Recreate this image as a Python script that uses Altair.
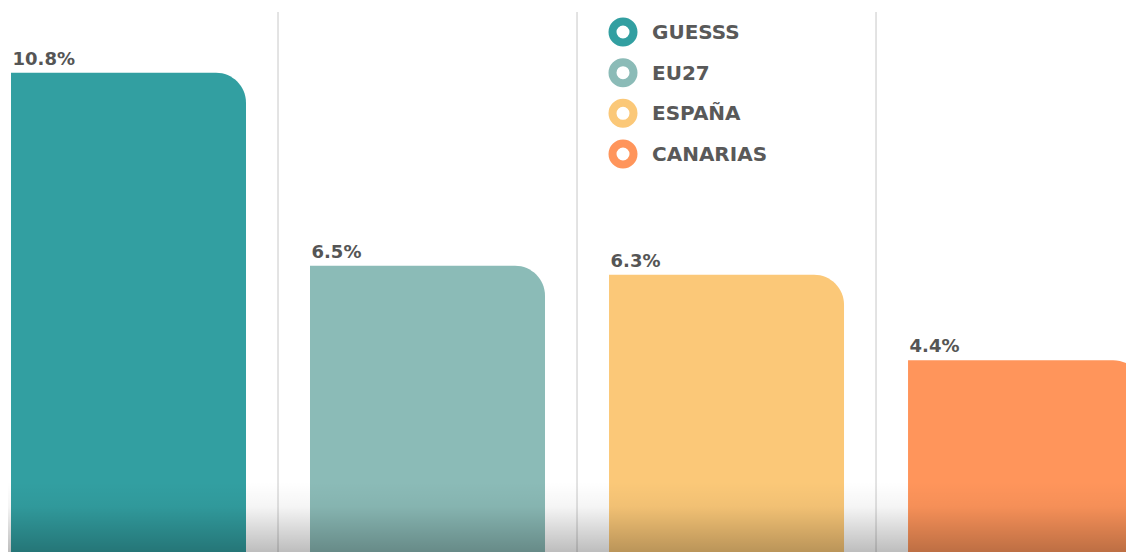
import altair as alt
import pandas as pd

categories = ["GUESSS", "EU27", "ESPAÑA", "CANARIAS"]
values = [10.8, 6.5, 6.3, 4.4]
labels = ["10.8%", "6.5%", "6.3%", "4.4%"]
colors = ["#329FA1", "#8BBBB7", "#FBC878", "#FF955B"]
positions = [0, 1, 2, 3]
dividers = [0.5, 1.5, 2.5]

df = pd.DataFrame({"cat": categories, "val": values, "label": labels, "pos": positions})
div_df = pd.DataFrame({"d": dividers})
one_df = pd.DataFrame({"k": [0]})

W, H = 1118, 540
xscale = alt.Scale(domain=[-0.403, 3.336], nice=False, zero=False, padding=0)
yscale = alt.Scale(domain=[0.127, 12.153], nice=False, zero=False, padding=0)
color_scale = alt.Scale(domain=categories, range=colors)
legend_y = alt.Scale(type="point", domain=categories, range=[20, 142], padding=0)

base = alt.Chart(df)

grid = alt.Chart(div_df).mark_rule(color="#c8c8c8", strokeWidth=1).encode(
    x=alt.X("d:Q", scale=xscale, axis=None)
)

bars = base.mark_bar(size=235, cornerRadiusTopRight=30, clip=True).encode(
    x=alt.X("pos:Q", scale=xscale, axis=None),
    y=alt.Y("val:Q", scale=yscale, axis=None),
    y2=alt.datum(0),
    fill=alt.Fill("cat:N", scale=color_scale, legend=None),
)

text = base.mark_text(
    align="left", baseline="alphabetic", dx=-116, dy=-8,
    font="DejaVu Sans", fontSize=18, fontWeight="bold", color="#555555",
).encode(
    x=alt.X("pos:Q", scale=xscale, axis=None),
    y=alt.Y("val:Q", scale=yscale, axis=None),
    text="label:N",
)

shade = alt.Chart(one_df).mark_rect(
    color=alt.Gradient(
        gradient="linear",
        stops=[
            alt.GradientStop(color="rgba(0,0,0,0)", offset=0),
            alt.GradientStop(color="rgba(0,0,0,0.04)", offset=0.35),
            alt.GradientStop(color="rgba(0,0,0,0.26)", offset=1),
        ],
        x1=0, x2=0, y1=0, y2=1,
    )
).encode(
    x=alt.value(0), x2=alt.value(W), y=alt.value(470), y2=alt.value(H)
)

rings = base.mark_point(shape="circle", filled=False, size=441, strokeWidth=8,
                        fill="white", fillOpacity=1, opacity=1).encode(
    x=alt.value(615),
    y=alt.Y("cat:N", scale=legend_y, axis=None),
    stroke=alt.Stroke("cat:N", scale=color_scale, legend=None),
)

legend_text = base.mark_text(
    align="left", baseline="middle", font="DejaVu Sans", fontSize=20,
    fontWeight="bold", color="#595959", dy=1,
).encode(
    x=alt.value(644),
    y=alt.Y("cat:N", scale=legend_y, axis=None),
    text="cat:N",
)

legend_layer = alt.layer(rings, legend_text)

chart = alt.layer(grid, bars, text, shade, legend_layer).resolve_scale(
    y="independent"
).properties(
    width=W, height=H,
    padding={"left": 0, "top": 4, "right": 0, "bottom": 0},
    autosize=alt.AutoSizeParams(type="none"),
).configure_view(stroke=None)

chart.save("out.html", embed_options={"renderer": "svg", "actions": False})
